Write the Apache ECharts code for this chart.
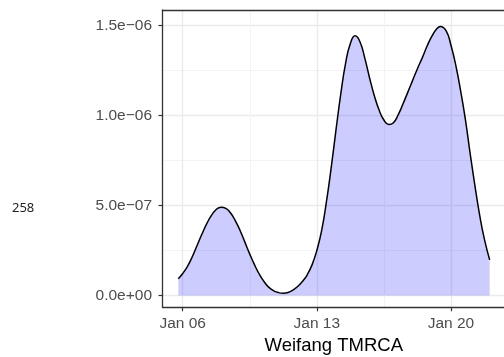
<!DOCTYPE html>
<html>
<head>
<meta charset="utf-8">
<script src="https://cdn.jsdelivr.net/npm/echarts@6/dist/echarts.min.js"></script>
<style>
html,body{margin:0;padding:0;background:#fff;}
#chart{width:504px;height:357px;}
</style>
</head>
<body>
<div id="chart"></div>
<script>
// x: day of January 2020 (fractional), y: density
const densityDays = [5.77,6.0,6.25,6.5,6.75,7.0,7.25,7.5,7.75,8.0,8.25,8.5,8.75,9.0,9.25,9.5,9.75,10.0,10.25,10.5,10.75,11.0,11.25,11.5,11.75,12.0,12.25,12.5,12.75,13.0,13.25,13.5,13.75,14.0,14.25,14.5,14.75,15.0,15.25,15.5,15.75,16.0,16.25,16.5,16.75,17.0,17.25,17.5,17.75,18.0,18.25,18.5,18.75,19.0,19.25,19.45,19.75,20.0,20.25,20.5,20.75,21.0,21.25,21.5,21.75,22.02];
const densityValues = [0.93e-7,1.22e-7,1.62e-7,2.15e-7,2.78e-7,3.4e-7,3.98e-7,4.45e-7,4.78e-7,4.9e-7,4.84e-7,4.58e-7,4.15e-7,3.6e-7,2.95e-7,2.3e-7,1.7e-7,1.18e-7,0.76e-7,0.45e-7,0.26e-7,0.16e-7,0.13e-7,0.17e-7,0.3e-7,0.5e-7,0.78e-7,1.15e-7,1.7e-7,2.5e-7,3.6e-7,5.2e-7,7.1e-7,9.2e-7,11.2e-7,12.9e-7,14.0e-7,14.43e-7,14.1e-7,13.2e-7,12.1e-7,11.1e-7,10.3e-7,9.75e-7,9.5e-7,9.6e-7,10.05e-7,10.65e-7,11.3e-7,11.95e-7,12.6e-7,13.2e-7,13.85e-7,14.4e-7,14.8e-7,14.95e-7,14.7e-7,13.9e-7,12.8e-7,11.4e-7,9.8e-7,7.9e-7,6.1e-7,4.45e-7,3.1e-7,1.98e-7];

const xTickDays = [6, 13, 20];
const xTickLabels = ['Jan 06', 'Jan 13', 'Jan 20'];
const xMinorDays = [9.5, 16.5];
const yTickValues = [0, 5e-7, 1e-6, 1.5e-6];
const yTickLabels = ['0.0e+00', '5.0e\u221207', '1.0e\u221206', '1.5e\u221206'];
const yMinorValues = [2.5e-7, 7.5e-7, 1.25e-6];
const xTitle = 'Weifang TMRCA';
const sideText = '258';

const X_MIN = 4.946, X_MAX = 22.82;
const Y_MIN = -6.56e-8, Y_MAX = 1.5861e-6;

const chart = echarts.init(document.getElementById('chart'), null, {renderer: 'canvas'});

function lookup(vals, labels, v) {
  for (let i = 0; i < vals.length; i++) {
    if (Math.abs(vals[i] - v) < 1e-9 * Math.max(1, Math.abs(vals[i]))) return labels[i];
  }
  return '';
}

const borderStyle = {color: '#333333', width: 1.3};

const option = {
  animation: false,
  backgroundColor: '#ffffff',
  graphic: [{
    type: 'text',
    left: 12,
    top: 202,
    style: {text: sideText, fontFamily: 'Noto Sans', fontSize: 13, fill: '#222222'}
  }],
  grid: {left: 162.5, top: 10, width: 342.5, height: 297.3, show: false,
    containLabel: false, outerBoundsMode: 'none'},
  xAxis: [{
    type: 'value', min: X_MIN, max: X_MAX, position: 'bottom',
    axisLine: {show: true, onZero: false, lineStyle: borderStyle},
    axisTick: {show: true, length: 4, customValues: xTickDays, lineStyle: {color: '#333333', width: 1.2}},
    axisLabel: {
      customValues: xTickDays, margin: 8, color: '#4d4d4d', fontSize: 15.5, fontFamily: 'Liberation Sans',
      formatter: v => lookup(xTickDays, xTickLabels, v)
    },
    splitLine: {show: true, lineStyle: {color: '#ebebeb', width: 1.4}},
    name: xTitle, nameLocation: 'middle', nameGap: 27,
    nameTextStyle: {color: '#000000', fontSize: 18.5, fontFamily: 'Liberation Sans'}
  }, {
    type: 'value', min: X_MIN, max: X_MAX, position: 'top',
    axisLine: {show: true, onZero: false, lineStyle: borderStyle}, axisLabel: {show: false},
    axisTick: {show: false, customValues: xMinorDays},
    splitLine: {show: true, lineStyle: {color: '#f3f3f3', width: 1}}
  }],
  yAxis: [{
    type: 'value', min: Y_MIN, max: Y_MAX, position: 'left',
    axisLine: {show: true, onZero: false, lineStyle: borderStyle},
    axisTick: {show: true, length: 4, customValues: yTickValues, lineStyle: {color: '#333333', width: 1.2}},
    axisLabel: {
      customValues: yTickValues, margin: 10.5, color: '#4d4d4d', fontSize: 15.5, fontFamily: 'Liberation Sans',
      formatter: v => lookup(yTickValues, yTickLabels, v)
    },
    splitLine: {show: true, lineStyle: {color: '#ebebeb', width: 1.4}}
  }, {
    type: 'value', min: Y_MIN, max: Y_MAX, position: 'left',
    axisLine: {show: false}, axisLabel: {show: false},
    axisTick: {show: false, customValues: yMinorValues},
    splitLine: {show: true, lineStyle: {color: '#f3f3f3', width: 1}}
  }],
  series: [{
    type: 'line',
    xAxisIndex: 0, yAxisIndex: 0,
    data: densityDays.map((d, i) => [d, densityValues[i]]),
    smooth: 0.5,
    showSymbol: false,
    symbol: 'none',
    lineStyle: {color: '#000000', width: 1.5},
    areaStyle: {color: 'rgba(0,0,255,0.2)', origin: 0, opacity: 1}
  }]
};
chart.setOption(option);
</script>
</body>
</html>
